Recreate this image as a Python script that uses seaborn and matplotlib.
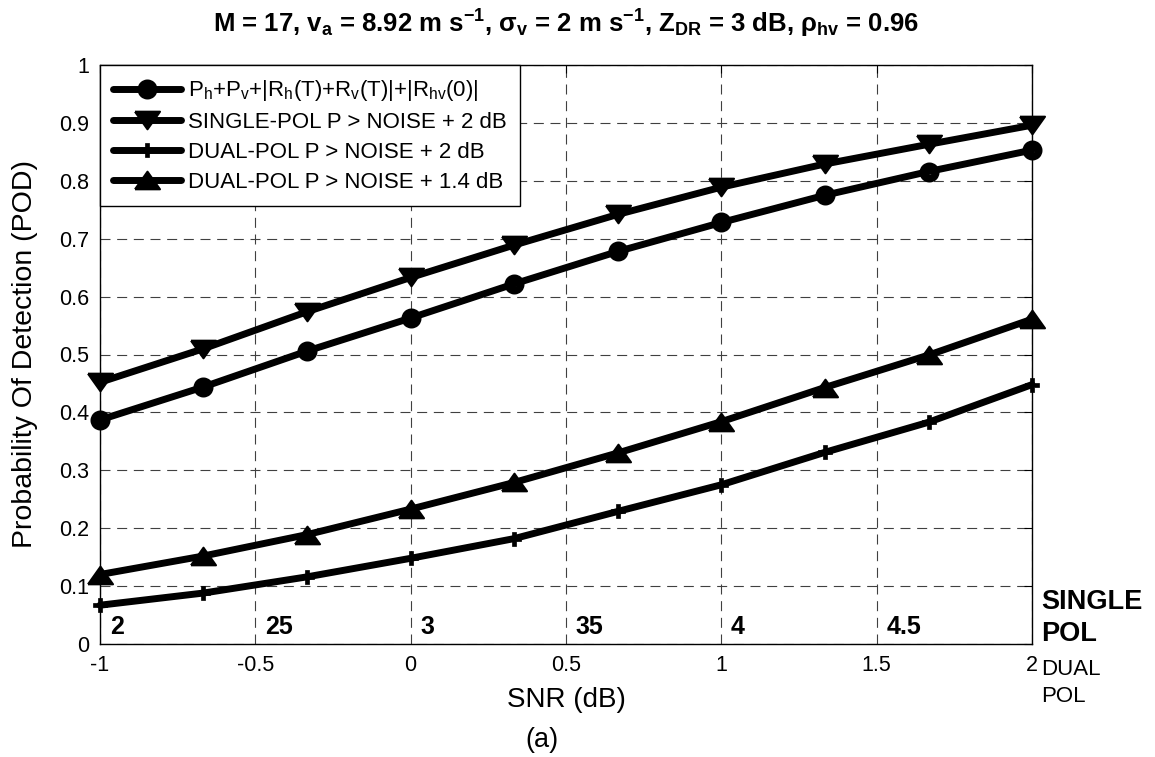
import matplotlib
matplotlib.use("Agg")
import matplotlib.pyplot as plt
import seaborn as sns

# ---------------- data ----------------
snr_db = [-1.0, -0.667, -0.333, 0.0, 0.333, 0.667, 1.0, 1.333, 1.667, 2.0]
pod_combined = [0.387, 0.444, 0.506, 0.563, 0.622, 0.678, 0.728, 0.775, 0.816, 0.853]
pod_single_2db = [0.452, 0.510, 0.574, 0.633, 0.689, 0.742, 0.789, 0.829, 0.863, 0.896]
pod_dual_2db = [0.067, 0.088, 0.116, 0.148, 0.182, 0.229, 0.275, 0.331, 0.383, 0.448]
pod_dual_14db = [0.120, 0.152, 0.189, 0.233, 0.279, 0.330, 0.384, 0.443, 0.499, 0.561]

series_labels = [
    "P$_h$+P$_v$+|R$_h$(T)+R$_v$(T)|+|R$_{hv}$(0)|",
    "SINGLE-POL P > NOISE + 2 dB",
    "DUAL-POL P > NOISE + 2 dB",
    "DUAL-POL P > NOISE + 1.4 dB",
]
x_ticks = [-1, -0.5, 0, 0.5, 1, 1.5, 2]
x_tick_labels = ["-1", "-0.5", "0", "0.5", "1", "1.5", "2"]
y_ticks = [0, 0.1, 0.2, 0.3, 0.4, 0.5, 0.6, 0.7, 0.8, 0.9, 1]
y_tick_labels = ["0", "0.1", "0.2", "0.3", "0.4", "0.5", "0.6", "0.7", "0.8", "0.9", "1"]
single_pol_snr_pos = [-1, -0.5, 0, 0.5, 1, 1.5]
single_pol_snr_labels = ["2", "25", "3", "35", "4", "4.5"]

title_text = ("M = 17, v$_a$ = 8.92 m s$^{-1}$, \u03c3$_v$ = 2 m s$^{-1}$, "
              "Z$_{DR}$ = 3 dB, \u03c1$_{hv}$ = 0.96")

# ---------------- style ----------------
sns.set_theme(style="white")
plt.rcParams["font.family"] = ["Liberation Sans", "DejaVu Sans"]
plt.rcParams["mathtext.default"] = "regular"
plt.rcParams["axes.edgecolor"] = "black"
plt.rcParams["axes.labelcolor"] = "black"
plt.rcParams["text.color"] = "black"
plt.rcParams["xtick.color"] = "black"
plt.rcParams["ytick.color"] = "black"

W, H = 1155, 757
fig = plt.figure(figsize=(W / 100, H / 100), dpi=100)
L, R, T, B = 100, 1032, 65, 644
ax = fig.add_axes([L / W, 1 - B / H, (R - L) / W, (B - T) / H])

tri_down = [(-1.35, 0.95), (1.35, 0.95), (0.0, -0.95), (-1.35, 0.95)]
tri_up = [(-1.35, -0.95), (1.35, -0.95), (0.0, 0.95), (-1.35, -0.95)]

styles = [
    dict(marker="o", ms=9.0, mew=5.4, mfc="none", mec="black"),
    dict(marker=tri_down, ms=18, mew=1.5, mfc="black", mec="black"),
    dict(marker="P", ms=9.5, mew=0.5, mfc="black", mec="black"),
    dict(marker=tri_up, ms=18, mew=1.5, mfc="black", mec="black"),
]
all_series = [pod_combined, pod_single_2db, pod_dual_2db, pod_dual_14db]

for vals, lbl, st in zip(all_series, series_labels, styles):
    sns.lineplot(x=snr_db, y=vals, ax=ax, color="black", lw=5, label=lbl,
                 clip_on=False, zorder=3, **st)

ax.set_xlim(-1, 2)
ax.set_ylim(0, 1)
ax.set_xticks(x_ticks)
ax.set_xticklabels(x_tick_labels)
ax.set_yticks(y_ticks)
ax.set_yticklabels(y_tick_labels)
ax.tick_params(direction="in", length=6, width=0.8, top=True, right=True,
               labelsize=15.5, colors="black", pad=8)
ax.grid(True, color="0.25", linestyle=(0, (9, 6)), lw=0.8)
for s in ax.spines.values():
    s.set_color("black")
    s.set_linewidth(1.0)

ax.set_xlabel("SNR (dB)", fontsize=20, labelpad=8, color="black")
ax.set_ylabel("Probability Of Detection (POD)", fontsize=20.5, labelpad=15,
              color="black")

leg = ax.legend(loc="upper left", bbox_to_anchor=(0, 1), borderaxespad=0,
                fontsize=16, frameon=True, fancybox=False, edgecolor="black",
                framealpha=1, handlelength=3.05, handletextpad=0.3,
                labelspacing=0.4, borderpad=0.6)
leg.get_frame().set_linewidth(1.0)
leg.set_zorder(5)
for t in leg.get_texts():
    t.set_color("black")

# secondary (single-pol) SNR labels inside axes
for xp, txt in zip(single_pol_snr_pos, single_pol_snr_labels):
    ax.annotate(txt, xy=(xp, 0), xytext=(7, 7), textcoords="offset points",
                fontsize=18, fontweight="bold", ha="left", va="baseline")

fig.text(1041 / W, 1 - 641 / H, "SINGLE\nPOL", fontsize=19.5, fontweight="bold",
         ha="left", va="baseline", linespacing=1.3)
fig.text(1041 / W, 1 - 702 / H, "DUAL\nPOL", fontsize=16, ha="left",
         va="baseline", linespacing=1.4)

fig.text(566 / W, 1 - 33 / H, title_text, fontsize=18.5, fontweight="bold",
         ha="center", va="baseline")
fig.text(542 / W, 1 - 747 / H, "(a)", fontsize=19.5, ha="center", va="baseline")

fig.savefig("out.png", dpi=100, facecolor="white")
